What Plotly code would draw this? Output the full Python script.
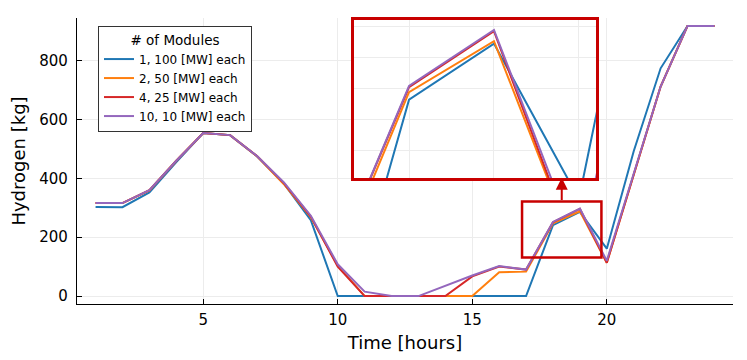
import plotly.graph_objects as go

# Hourly hydrogen production for each electrolyser configuration
HOURS = list(range(1, 25))

SERIES_NAMES = [
    "1, 100 [MW] each",
    "2, 50 [MW] each",
    "4, 25 [MW] each",
    "10, 10 [MW] each",
]

H2_1x100 = [303, 302, 352, 455, 554, 547, 475, 382, 258, 0, 0, 0,
            0, 0, 0, 0, 0, 241, 286, 161, 492, 774, 918, 918]
H2_2x50 = [316, 316, 359, 460, 554, 547, 475, 380, 268, 104, 0, 0,
           0, 0, 0, 81, 83, 247, 288, 113, 412, 712, 918, 918]
H2_4x25 = [316, 316, 360, 460, 554, 547, 476, 384, 270, 100, 0, 0,
           0, 0, 67, 100, 90, 251, 296, 113, 412, 712, 918, 918]
H2_10x10 = [316, 316, 360, 460, 554, 547, 476, 386, 273, 108, 15, 0,
            0, 36, 70, 102, 90, 252, 297, 120, 412, 712, 918, 918]

SERIES = [H2_1x100, H2_2x50, H2_4x25, H2_10x10]

# zoom window (lens) drawn on the main plot, and the inset's view
LENS_X = [16.85, 19.8]
LENS_Y = [131, 321]
INSET_X = [17.35, 20.2]
INSET_Y = [178, 305]

COLORS = ["#1f77b4", "#ff7f0e", "#d62728", "#9467bd"]
LENS_RED = "#c80000"
GRID = "#ececec"
FONT = "DejaVu Sans"

fig = go.Figure()

# main plot
for name, vals, c in zip(SERIES_NAMES, SERIES, COLORS):
    fig.add_trace(go.Scatter(
        x=HOURS, y=vals, mode="lines", name=name,
        line=dict(color=c, width=2),
        xaxis="x", yaxis="y",
    ))

# inset copy of the same lines
for name, vals, c in zip(SERIES_NAMES, SERIES, COLORS):
    fig.add_trace(go.Scatter(
        x=HOURS, y=vals, mode="lines", name=name,
        line=dict(color=c, width=2),
        xaxis="x2", yaxis="y2", showlegend=False,
    ))

# lens rectangle on main axes
fig.add_shape(
    type="rect", xref="x", yref="y",
    x0=LENS_X[0], x1=LENS_X[1], y0=LENS_Y[0], y1=LENS_Y[1],
    line=dict(color=LENS_RED, width=2.5),
)

# arrow from the lens up to the inset
fig.add_annotation(
    x=sum(LENS_X) / 2, y=402, xref="x", yref="y",
    ax=sum(LENS_X) / 2, ay=LENS_Y[1], axref="x", ayref="y",
    showarrow=True, arrowhead=2, arrowsize=1.2, arrowwidth=2,
    arrowcolor=LENS_RED, text="",
)

# page body has an 8px margin, so margins are trimmed to compensate
fig.update_layout(
    width=747, height=360,
    margin=dict(l=69, r=22, t=10, b=64),
    paper_bgcolor="white",
    plot_bgcolor="white",
    font=dict(family=FONT, color="black", size=15),
    xaxis=dict(
        domain=[0, 1], anchor="y", automargin=False,
        range=[0.31, 24.69],
        tickvals=[5, 10, 15, 20],
        showgrid=True, gridcolor=GRID, gridwidth=1,
        showline=True, linecolor="black", linewidth=1.2, mirror=False,
        ticks="inside", ticklen=5, tickcolor="black",
        ticklabelstandoff=2,
        zeroline=False,
        title=dict(text="Time [hours]", font=dict(size=18), standoff=8),
    ),
    yaxis=dict(
        domain=[0, 1], anchor="x", automargin=False,
        range=[-27, 945],
        tickvals=[0, 200, 400, 600, 800],
        showgrid=True, gridcolor=GRID, gridwidth=1,
        showline=True, linecolor="black", linewidth=1.2, mirror=False,
        ticks="inside", ticklen=5, tickcolor="black",
        ticklabelstandoff=5,
        zeroline=False,
        title=dict(text="Hydrogen [kg]", font=dict(size=18), standoff=10),
    ),
    xaxis2=dict(
        domain=[0.422, 0.791], anchor="y2", automargin=False,
        range=INSET_X, dtick=1, tick0=0,
        showgrid=True, gridcolor=GRID, gridwidth=1,
        showticklabels=False, ticks="",
        showline=True, linecolor=LENS_RED, linewidth=3, mirror=True,
        zeroline=False,
    ),
    yaxis2=dict(
        domain=[0.4406, 0.993], anchor="x2", automargin=False,
        range=INSET_Y, dtick=25, tick0=0,
        showgrid=True, gridcolor=GRID, gridwidth=1,
        showticklabels=False, ticks="",
        showline=True, linecolor=LENS_RED, linewidth=3, mirror=True,
        zeroline=False,
    ),
    legend=dict(
        x=0.032, y=0.972, xanchor="left", yanchor="top",
        bgcolor="white", bordercolor="#333333", borderwidth=1,
        font=dict(size=12, family=FONT),
        title=dict(text="# of Modules", side="top center",
                   font=dict(size=13.5, family=FONT, weight="normal")),
        tracegroupgap=0,
    ),
)

fig.write_html("out.html")
